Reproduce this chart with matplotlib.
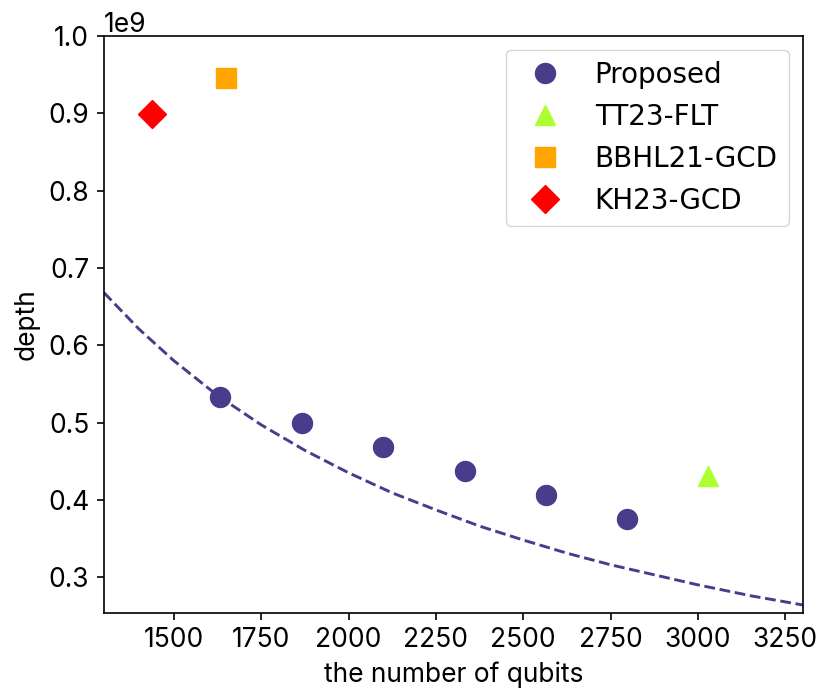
import matplotlib
matplotlib.use("Agg")
from matplotlib import pyplot as plt
import numpy as np

# 데이터
proposed_qubits = [1633, 1866, 2099, 2332, 2565, 2798]
proposed_depth = [0.533e9, 0.500e9, 0.468e9, 0.437e9, 0.406e9, 0.375e9]

tt23_qubits = [3030]
tt23_depth = [0.431e9]

bbhl21_qubits = [1648]
bbhl21_depth = [0.946e9]

kh23_qubits = [1438]
kh23_depth = [0.899e9]

# 점선 곡선
curve_qubits = [1300, 1400, 1500, 1625, 1750, 1875, 2000, 2125, 2250,
                2375, 2500, 2625, 2750, 2875, 3000, 3150, 3300]
curve_depth = [0.668e9, 0.621e9, 0.580e9, 0.535e9, 0.497e9, 0.464e9,
               0.435e9, 0.409e9, 0.387e9, 0.366e9, 0.348e9, 0.331e9,
               0.316e9, 0.303e9, 0.290e9, 0.276e9, 0.264e9]

plt.rcParams['font.family'] = ['Inter', 'DejaVu Sans']
plt.rcParams['font.size'] = 19
plt.rcParams['axes.linewidth'] = 1.2
plt.rcParams['axes.labelpad'] = 6
for a in ('xtick', 'ytick'):
    plt.rcParams[a + '.major.size'] = 5.3
    plt.rcParams[a + '.major.width'] = 1.2
    plt.rcParams[a + '.major.pad'] = 5.3

fig = plt.figure(figsize=(8.25, 6.96), dpi=100)
ax = fig.add_axes([0.126, 0.1197, 0.847, 0.8286])

ms = 14.4
ax.plot(curve_qubits, curve_depth, linestyle='--', color='darkslateblue', lw=2.1)
ax.plot(proposed_qubits, proposed_depth, 'o', color='darkslateblue', ms=ms, label='Proposed')
ax.plot(tt23_qubits, tt23_depth, '^', color='greenyellow', ms=ms, label='TT23-FLT')
ax.plot(bbhl21_qubits, bbhl21_depth, 's', color='orange', ms=ms, label='BBHL21-GCD')
ax.plot(kh23_qubits, kh23_depth, 'D', color='red', ms=ms, label='KH23-GCD')

ax.set_xlim(1300, 3300)
ax.set_ylim(0.254e9, 1.0e9)
ax.set_xticks([1500, 1750, 2000, 2250, 2500, 2750, 3000, 3250])
ax.set_yticks([0.3e9, 0.4e9, 0.5e9, 0.6e9, 0.7e9, 0.8e9, 0.9e9, 1.0e9])

ax.set_xlabel('the number of qubits')
ax.set_ylabel('depth')

ax.legend(loc='upper right', prop={'family': 'DejaVu Sans', 'size': 20})

fig.savefig('out.png', dpi=100)
